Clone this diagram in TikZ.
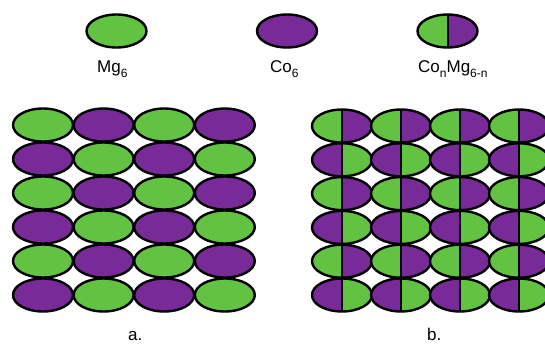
\documentclass[tikz,border=0pt]{standalone}
\usepackage{fontspec}
\setmainfont{Liberation Sans}
\definecolor{mgG}{RGB}{98,194,66}
\definecolor{coP}{RGB}{120,42,152}
\newcommand\mySub[1]{\raisebox{-5.5pt}{\fontsize{12}{12}\selectfont #1}}
\newcommand\myFullEll[3]{%
  \filldraw[fill=#3, outl] (#1,#2) ellipse [x radius=30, y radius=16.5];}
\newcommand\myHalfEll[4]{%
  \begin{scope}
    \clip (#1,#2) ellipse [x radius=30, y radius=16.5];
    \fill[#3] (#1-31,#2-18) rectangle (#1,#2+18);
    \fill[#4] (#1,#2-18) rectangle (#1+31,#2+18);
  \end{scope}
  \draw[line width=1.5pt] (#1,#2-16.5) -- (#1,#2+16.5);
  \draw[outl] (#1,#2) ellipse [x radius=30, y radius=16.5];}
\begin{document}
\begin{tikzpicture}[x=1pt,y=-1pt,
  outl/.style={draw=black,line width=2.4pt},
  lbl/.style={font=\fontsize{17}{19}\selectfont,inner sep=0pt,anchor=base west}]
\useasboundingbox (0,0) rectangle (545,345);
\fill[white] (0,0) rectangle (545,345);
% legend
\filldraw[fill=mgG, outl] (116.5,31) ellipse [x radius=30, y radius=16.5];
\filldraw[fill=coP, outl] (287,31) ellipse [x radius=30, y radius=16.5];
\begin{scope}
  \clip (447.5,31) ellipse [x radius=30, y radius=16.5];
  \fill[mgG] (416,13) rectangle (448,49);
  \fill[coP] (448,13) rectangle (479,49);
\end{scope}
\draw[line width=1.5pt] (448,14.5) -- (448,47.5);
\draw[outl] (447.5,31) ellipse [x radius=30, y radius=16.5];
\node[lbl] (lmg) at (97,72) {Mg\mySub{6}};
\node[lbl] (lco) at (270,72) {Co\mySub{6}};
\node[lbl] (lmix) at (418,72) {Co\mySub{n}Mg\mySub{6-n}};
% grid a
\foreach \j in {0,...,5}{
  \foreach \i in {0,...,3}{
    \pgfmathtruncatemacro\p{mod(\i+\j,2)}
    \pgfmathsetmacro\cx{43+60.6*\i}
    \pgfmathsetmacro\cy{125+34*\j}
    \ifnum\p=0 \myFullEll{\cx}{\cy}{mgG}\else\myFullEll{\cx}{\cy}{coP}\fi
  }
}
% grid b
\foreach \j in {0,...,5}{
  \foreach \i in {0,...,3}{
    \pgfmathtruncatemacro\p{mod(\j,2)}
    \pgfmathsetmacro\cx{342+59*\i}
    \pgfmathsetmacro\cy{126+33.8*\j}
    \ifnum\p=0 \myHalfEll{\cx}{\cy}{mgG}{coP}\else\myHalfEll{\cx}{\cy}{coP}{mgG}\fi
  }
}
\node[lbl] (la) at (128,340) {a.};
\node[lbl] (lb) at (427,340) {b.};
\end{tikzpicture}
\end{document}
